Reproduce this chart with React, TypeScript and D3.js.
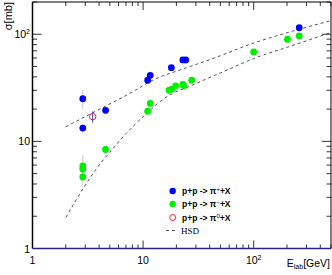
import React from "react";
import * as d3 from "d3";

// π+ data
const piPlusE = [2.85, 2.85, 4.58, 11.0, 11.6, 18.0, 22.9, 24.3, 258];
const piPlusSigma = [25.0, 13.3, 19.5, 37.2, 41.4, 48.7, 57.6, 57.6, 115];
const piPlusErr = [5, 1.2, 1.5, 2, 2, 2.5, 3, 3, 6];

// π- data
const piMinusE = [2.85, 2.85, 2.85, 4.58, 11.0, 11.6, 17.2, 18.2, 19.7, 22.9, 23.3, 27.5, 100, 202, 258];
const piMinusSigma = [5.9, 5.5, 4.65, 8.4, 19.1, 22.6, 30.0, 30.8, 32.9, 34.1, 33.1, 37.2, 68.3, 89.8, 96.4];
const piMinusErr = [1.5, 0.8, 0.7, 0.6, 1.2, 1.3, 1.5, 1.5, 1.6, 1.7, 1.7, 1.9, 3, 4, 4];

// π0 data
const piZeroE = [3.5];
const piZeroSigma = [17.0];
const piZeroErr = [2.0];

// HSD curves
const hsdUpperE = [2, 3.5, 7, 14.3, 17.6, 50, 94, 116, 500];
const hsdUpperSigma = [13.7, 18.5, 26.8, 40.1, 43.2, 63, 81, 87, 134];
const hsdLowerE = [2, 3, 4, 5, 7, 11, 15, 30, 60, 100, 200, 500];
const hsdLowerSigma = [1.95, 3.9, 6.0, 7.9, 11.8, 18.6, 24.5, 34.6, 47.2, 59.4, 75.5, 103.7];

const xTickLabels = ["1", "10", "10|2"];
const yTickLabels = ["1", "10", "10|2"];
const legendLabels = ["p+p -> π|+|+X", "p+p -> π|−|+X", "p+p -> π|0|+X"];

const W = 332;
const H = 275;
const L = 32.5, R = 331, T = 2, B = 248.5;
const FONT = "'Liberation Sans', Arial, Helvetica, sans-serif";

export default function App() {
  const x = d3.scaleLog().domain([1, 500]).range([L, R]);
  const y = d3.scaleLog().domain([1, 200]).range([B, T]);

  const xTicks: { v: number; major: boolean }[] = [];
  for (let dec = 1; dec <= 100; dec *= 10) {
    for (let m = 1; m <= 9; m++) {
      const v = dec * m;
      if (v > 500 || v <= 1) continue;
      xTicks.push({ v, major: m === 1 });
    }
  }
  const yTicks: { v: number; major: boolean }[] = [];
  for (let dec = 1; dec <= 100; dec *= 10) {
    for (let m = 1; m <= 9; m++) {
      const v = dec * m;
      if (v > 200 || v <= 1) continue;
      yTicks.push({ v, major: m === 1 });
    }
  }

  const line = d3
    .line<[number, number]>()
    .x((d) => x(d[0]))
    .y((d) => y(d[1]))
    .curve(d3.curveMonotoneX);

  const upper = hsdUpperE.map((e, i) => [e, hsdUpperSigma[i]] as [number, number]);
  const lower = hsdLowerE.map((e, i) => [e, hsdLowerSigma[i]] as [number, number]);

  const renderLabel = (s: string, supSize: number) => {
    const parts = s.split("|");
    if (parts.length === 1) return parts[0];
    return (
      <>
        {parts[0]}
        <tspan fontSize={supSize} dy={-4}>{parts[1]}</tspan>
        {parts[2] !== undefined ? <tspan dy={4}>{parts[2]}</tspan> : null}
      </>
    );
  };

  const legendRows = [
    { y: 191, type: "blue" },
    { y: 204, type: "green" },
    { y: 217.5, type: "red" },
  ];

  return (
    <svg width={W} height={H} style={{ position: "absolute", left: 0, top: 0, background: "#fff" }}>
      <rect x={0} y={0} width={W} height={H} fill="#fff" />

      {/* HSD curves */}
      <path d={line(upper) || ""} fill="none" stroke="#555" strokeWidth={1} strokeDasharray="3,3" />
      <path d={line(lower) || ""} fill="none" stroke="#555" strokeWidth={1} strokeDasharray="3,3" />

      {/* error bars */}
      {piPlusE.map((e, i) => (
        <line key={"pe" + i} x1={x(e)} x2={x(e)} y1={y(piPlusSigma[i] + piPlusErr[i])} y2={y(piPlusSigma[i] - piPlusErr[i])} stroke="#c8c8c8" strokeWidth={1} />
      ))}
      {piMinusE.map((e, i) => (
        <line key={"me" + i} x1={x(e)} x2={x(e)} y1={y(piMinusSigma[i] + piMinusErr[i])} y2={y(piMinusSigma[i] - piMinusErr[i])} stroke="#c8c8c8" strokeWidth={1} />
      ))}
      {piZeroE.map((e, i) => (
        <line key={"ze" + i} x1={x(e)} x2={x(e)} y1={y(piZeroSigma[i] + piZeroErr[i])} y2={y(piZeroSigma[i] - piZeroErr[i])} stroke="#3a3ad0" strokeWidth={1} />
      ))}

      {/* points */}
      {piPlusE.map((e, i) => (
        <circle key={"p" + i} cx={x(e)} cy={y(piPlusSigma[i])} r={3.4} fill="#0000ff" />
      ))}
      {piMinusE.map((e, i) => (
        <circle key={"m" + i} cx={x(e)} cy={y(piMinusSigma[i])} r={3.4} fill="#00ee00" />
      ))}
      {piZeroE.map((e, i) => (
        <circle key={"z" + i} cx={x(e)} cy={y(piZeroSigma[i])} r={3.2} fill="none" stroke="#ff2020" strokeWidth={1} />
      ))}

      {/* frame */}
      <line x1={L} x2={R} y1={T} y2={T} stroke="#000" strokeWidth={1} />
      <line x1={R} x2={R} y1={T} y2={B} stroke="#000" strokeWidth={1} />
      <line x1={L} x2={L} y1={T} y2={B} stroke="#000" strokeWidth={1.5} />

      {/* x ticks bottom & top */}
      {xTicks.map((t, i) => (
        <g key={"xt" + i}>
          <line x1={x(t.v)} x2={x(t.v)} y1={B} y2={B - (t.major ? 8 : 4)} stroke="#000" strokeWidth={0.8} />
          <line x1={x(t.v)} x2={x(t.v)} y1={T} y2={T + (t.major ? 8 : 4)} stroke="#000" strokeWidth={0.8} />
        </g>
      ))}
      {/* y ticks left & right */}
      {yTicks.map((t, i) => (
        <g key={"yt" + i}>
          <line x1={L} x2={L + (t.major ? 9 : 4.5)} y1={y(t.v)} y2={y(t.v)} stroke="#000" strokeWidth={0.8} />
          <line x1={R} x2={R - (t.major ? 9 : 4.5)} y1={y(t.v)} y2={y(t.v)} stroke="#000" strokeWidth={0.8} />
        </g>
      ))}

      {/* bottom line */}
      <line x1={L} x2={R} y1={B} y2={B} stroke="#23238a" strokeWidth={1.6} />

      {/* x tick labels */}
      {[1, 10, 100].map((v, i) => (
        <text key={"xl" + i} x={x(v)} y={263.5} textAnchor="middle" fontFamily={FONT} fontSize={10.5} fill="#000">
          {renderLabel(xTickLabels[i], 7)}
        </text>
      ))}
      {/* y tick labels */}
      {[1, 10, 100].map((v, i) => (
        <text key={"yl" + i} x={30} y={y(v) + 4} textAnchor="end" fontFamily={FONT} fontSize={10.5} fill="#000">
          {renderLabel(yTickLabels[i], 7)}
        </text>
      ))}

      {/* axis titles */}
      <text transform={`translate(11.5,2) rotate(-90)`} textAnchor="end" fontFamily={FONT} fontSize={11} fill="#000">
        σ[mb]
      </text>
      <text x={330} y={266.5} textAnchor="end" fontFamily={FONT} fontSize={10.5} fill="#000">
        E<tspan fontSize={7} dy={2.5}>lab</tspan><tspan dy={-2.5}>[GeV]</tspan>
      </text>

      {/* legend */}
      {legendRows.map((r, i) => (
        <g key={"lg" + i}>
          {r.type === "red" ? (
            <circle cx={172.7} cy={r.y} r={3} fill="none" stroke="#ff2020" strokeWidth={1} />
          ) : (
            <circle cx={172.7} cy={r.y} r={3.2} fill={r.type === "blue" ? "#0000ff" : "#00ee00"} />
          )}
          <text x={182} y={r.y + 3} fontFamily={FONT} fontSize={8.5} fontWeight="bold" fill="#000">
            {(() => {
              const p = legendLabels[i].split("|");
              return (
                <>
                  {p[0]}
                  <tspan fontSize={6} dy={-3} fontWeight="normal">{p[1]}</tspan>
                  <tspan dy={3}>{p[2]}</tspan>
                </>
              );
            })()}
          </text>
        </g>
      ))}
      <line x1={166} x2={176} y1={230.5} y2={230.5} stroke="#555" strokeWidth={1} strokeDasharray="3,3" />
      <text x={181} y={233.5} fontFamily="'Liberation Serif', 'Times New Roman', serif" fontSize={9} fill="#000">
        HSD
      </text>
    </svg>
  );
}
